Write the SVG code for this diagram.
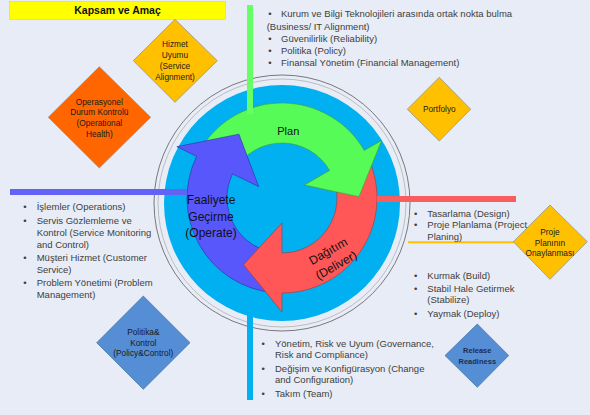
<svg xmlns="http://www.w3.org/2000/svg" width="590" height="415" viewBox="0 0 590 415">
<style>
.t{font-family:"Liberation Sans",Arial,sans-serif;fill:#404040;font-size:9.5px}
.d{font-family:"Liberation Sans",Arial,sans-serif;fill:#1a1a1a;font-size:8.3px;text-anchor:middle}
.c{font-family:"Liberation Sans",Arial,sans-serif;fill:#111;text-anchor:middle}
.dy{fill:#FFC000;stroke:#8C8C8C;stroke-width:0.7}
.db{fill:#558ED5;stroke:#41719C;stroke-width:0.7}
</style>
<rect width="590" height="415" fill="#E7ECF6"/>

<g id="title">
<rect x="9.5" y="1.5" width="216" height="18" fill="#FFFF00" stroke="#C8C8A0" stroke-width="0.5"/>
<text x="117.5" y="14.3" class="c" style="font-size:10.5px;font-weight:bold">Kapsam ve Amaç</text>
</g>

<g id="cycle">
<circle cx="282" cy="203" r="128" fill="none" stroke="#5A5A5A" stroke-width="0.8"/>
<circle cx="282" cy="203" r="124" fill="none" stroke="#A8A8A8" stroke-width="0.7"/>
<circle cx="282" cy="203" r="118" fill="#00B0F0"/>
</g>

<g id="plan">
<path d="M201.44,147.66 A95 95 0 0 1 364.27,150.5 L381.59,140.5 L358.99,196.66 L304.52,185 L329.63,170.5 A55 55 0 0 0 235.36,168.86 Z" fill="#57FB57" stroke="#3C9E3C" stroke-width="0.6"/>
</g>
<g id="operate">
<path d="M273.72,292.64 A95 95 0 0 1 196.61,156.35 L176.84,146.71 L238.94,134.17 L258.63,186.6 L232.57,173.89 A55 55 0 0 0 277.21,252.79 Z" fill="#5757FB" stroke="#2E2E9E" stroke-width="0.6"/>
</g>
<g id="deliver">
<path d="M368.1,157.85 A95 95 0 0 1 282,293 L282,312 L243.5,264.68 L282,223 L282,253 A55 55 0 0 0 331.85,174.76 Z" fill="#FF5757" stroke="#A83434" stroke-width="0.6"/>
</g>
<g id="plan-head">
<path d="M381.59,140.5 L358.99,196.66 L304.52,185 Z" fill="#57FB57"/>
<path d="M364.27,150.5 L381.59,140.5 L358.99,196.66 L304.52,185 L329.63,170.5" fill="none" stroke="#3C9E3C" stroke-width="0.6"/>
</g>

<g id="connectors">
<rect x="247" y="5" width="6" height="109" fill="#66FF66"/>
<rect x="10" y="189" width="177" height="6" fill="#6262F6"/>
<rect x="377" y="196" width="139" height="6" fill="#F85E5E"/>
<rect x="408" y="241.3" width="106" height="2" fill="#FFC000"/>
<rect x="247" y="314" width="6" height="86" fill="#00B0F0"/>
</g>

<g id="labels">
<text x="288.3" y="134.5" class="c" style="font-size:11px">Plan</text>
<text class="c" style="font-size:12px"><tspan x="211" y="204.2">Faaliyete</tspan><tspan x="211" y="220.6">Geçirme</tspan><tspan x="211" y="237">(Operate)</tspan></text>
<g transform="translate(328,251) rotate(-30)">
<text class="c" style="font-size:12px"><tspan x="0" y="4.2">Dağıtım</tspan><tspan x="0" y="20.5">(Deliver)</tspan></text>
</g>
</g>

<g id="hizmet-uyumu">
<path class="dy" d="M175,19.3 L217.3,60.7 L175,102.3 L133.3,60.7 Z"/>
<text class="d"><tspan x="175" y="47.3">Hizmet</tspan><tspan x="175" y="58">Uyumu</tspan><tspan x="175" y="68.7">(Service</tspan><tspan x="175" y="79.7">Alignment)</tspan></text>
</g>

<g id="operasyonel">
<path d="M99.3,66.7 L150.7,117.3 L99.3,168 L48.3,117.3 Z" fill="#FF6600" stroke="#8C8C8C" stroke-width="0.7"/>
<text class="d"><tspan x="99.3" y="104.7">Operasyonel</tspan><tspan x="99.3" y="115.3">Durum Kontrolü</tspan><tspan x="99.3" y="126.3">(Operational</tspan><tspan x="99.3" y="137.3">Health)</tspan></text>
</g>

<g id="portfolyo">
<path class="dy" d="M439.3,77.3 L470.7,109.3 L439.3,141 L407.3,109.3 Z"/>
<text class="d" x="439.3" y="112.3">Portfolyo</text>
</g>

<g id="proje-onay">
<path class="dy" d="M550,205 L587.3,241.7 L550,279.3 L513.3,241.7 Z"/>
<text class="d"><tspan x="550" y="234.7">Proje</tspan><tspan x="550" y="245.7">Planının</tspan><tspan x="550" y="256.3">Onaylanması</tspan></text>
</g>

<g id="politika">
<path class="db" d="M143.3,296 L190,342.7 L143.3,389.3 L96.7,342.7 Z"/>
<text class="d"><tspan x="143.3" y="335.3">Politika&amp;</tspan><tspan x="143.3" y="345.7">Kontrol</tspan><tspan x="143.3" y="356.3">(Policy&amp;Control)</tspan></text>
</g>

<g id="release">
<path class="db" d="M477.3,324 L508.7,355.5 L477.3,387.3 L445,355.5 Z"/>
<text class="d" style="font-size:7.5px;font-weight:bold;fill:#1F2D4D"><tspan x="477.3" y="353.4">Release</tspan><tspan x="477.3" y="363.7">Readiness</tspan></text>
</g>

<g id="plan-list">
<text class="t" x="268.3" y="17.2">•</text><text class="t" x="281" y="17.2">Kurum ve Bilgi Teknolojileri arasında ortak nokta bulma</text>
<text class="t" x="266.7" y="29.5">(Business/ IT Alignment)</text>
<text class="t" x="268.3" y="41.8">•</text><text class="t" x="281" y="41.8">Güvenilirlik (Reliability)</text>
<text class="t" x="268.3" y="54.1">•</text><text class="t" x="281" y="54.1">Politika (Policy)</text>
<text class="t" x="268.3" y="66.4">•</text><text class="t" x="281" y="66.4">Finansal Yönetim (Financial Management)</text>
</g>

<g id="operate-list">
<text class="t" x="23.3" y="210">•</text><text class="t" x="36.7" y="210">İşlemler (Operations)</text>
<text class="t" x="23.3" y="223.5">•</text><text class="t" x="36.7" y="223.5">Servis Gözlemleme ve</text>
<text class="t" x="36.7" y="235.7">Kontrol (Service Monitoring</text>
<text class="t" x="36.7" y="247.5">and Control)</text>
<text class="t" x="23.3" y="261">•</text><text class="t" x="36.7" y="261">Müşteri Hizmet (Customer</text>
<text class="t" x="36.7" y="273">Service)</text>
<text class="t" x="23.3" y="285.7">•</text><text class="t" x="36.7" y="285.7">Problem Yönetimi (Problem</text>
<text class="t" x="36.7" y="298">Management)</text>
</g>

<g id="deliver-list">
<text class="t" x="414" y="216.6">•</text><text class="t" x="427.3" y="216.6">Tasarlama (Design)</text>
<text class="t" x="414" y="228.3">•</text><text class="t" x="427.3" y="228.3">Proje Planlama (Project</text>
<text class="t" x="427.3" y="240">Planing)</text>
<text class="t" x="414" y="279.3">•</text><text class="t" x="427.3" y="279.3">Kurmak (Build)</text>
<text class="t" x="414" y="291.6">•</text><text class="t" x="427.3" y="291.6">Stabil Hale Getirmek</text>
<text class="t" x="427.3" y="303.3">(Stabilize)</text>
<text class="t" x="414" y="317">•</text><text class="t" x="427.3" y="317">Yaymak (Deploy)</text>
</g>

<g id="governance-list">
<text class="t" x="261.6" y="346.6">•</text><text class="t" x="275" y="346.6">Yönetim, Risk ve Uyum (Governance,</text>
<text class="t" x="275" y="357.6">Risk and Compliance)</text>
<text class="t" x="261.6" y="371.6">•</text><text class="t" x="275" y="371.6">Değişim ve Konfigürasyon (Change</text>
<text class="t" x="275" y="383.3">and Configuration)</text>
<text class="t" x="261.6" y="396.6">•</text><text class="t" x="275" y="396.6">Takım (Team)</text>
</g>
</svg>
